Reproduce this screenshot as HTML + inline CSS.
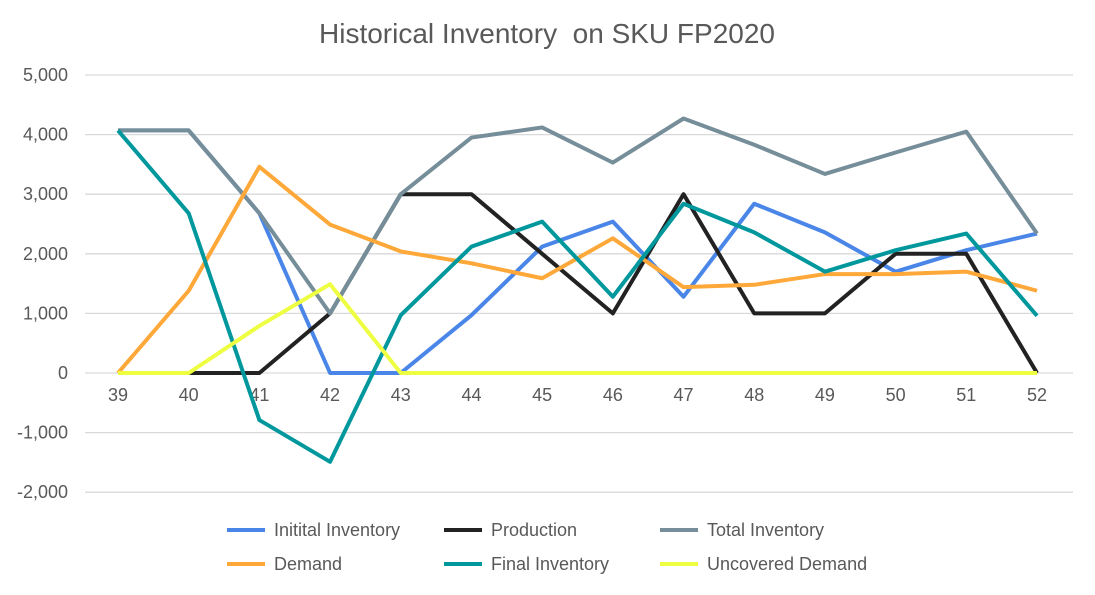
<!DOCTYPE html>
<html><head><meta charset="utf-8"><style>
body{margin:0;background:#fff;}
svg text{font-family:"Liberation Sans",Arial,sans-serif;fill:#595959;}
</style></head><body>
<svg width="1095" height="590" id="c">
<text x="547" y="43" font-size="28" text-anchor="middle" xml:space="preserve">Historical Inventory  on SKU FP2020</text>
<g id="grid"></g><g id="lines"></g><g id="legend"></g>
</svg>
<script>
const weeks=["39","40","41","42","43","44","45","46","47","48","49","50","51","52"];
const yTicks=[5000,4000,3000,2000,1000,0,-1000,-2000];
const yTickLabels=["5,000","4,000","3,000","2,000","1,000","0","-1,000","-2,000"];
const initialInv=[4070,4070,2680,0,0,970,2120,2540,1280,2840,2360,1700,2060,2340];
const production=[0,0,0,1000,3000,3000,2000,1000,3000,1000,1000,2000,2000,0];
const totalInv=[4070,4070,2680,1000,3000,3950,4120,3530,4270,3830,3340,3700,4050,2340];
const demand=[0,1380,3460,2490,2040,1840,1590,2260,1440,1480,1660,1660,1700,1380];
const finalInv=[4070,2680,-790,-1490,970,2120,2540,1280,2840,2360,1700,2060,2340,960];
const uncovered=[0,0,790,1490,0,0,0,0,0,0,0,0,0,0];
const NS="http://www.w3.org/2000/svg";
const x=i=>118+i*(1037-118)/13;
const y=v=>373-v*(373-75)/5000;
function mk(t,a,p){const e=document.createElementNS(NS,t);for(const k in a)e.setAttribute(k,a[k]);p.appendChild(e);return e;}
const g=document.getElementById('grid');
yTicks.forEach((v,i)=>{
 const l=mk('line',{x1:85,x2:1073,y1:y(v),y2:y(v),stroke:'#d9d9d9','stroke-width':1.3},g);
 
 
 const t=mk('text',{x:68,y:y(v)+6,'font-size':18,'text-anchor':'end'},g);t.textContent=yTickLabels[i];
 
 
});
weeks.forEach((w,i)=>{const t=mk('text',{x:x(i),y:y(0)+28,'font-size':18,'text-anchor':'middle'},g);t.textContent=w;
 
 });
const series=[
 ["Initital Inventory",initialInv,"#4A86E8","initial-inventory-line"],
 ["Production",production,"#222222","production-line"],
 ["Total Inventory",totalInv,"#768E99","total-inventory-line"],
 ["Demand",demand,"#FFA83A","demand-line"],
 ["Final Inventory",finalInv,"#00979D","final-inventory-line"],
 ["Uncovered Demand",uncovered,"#EEFF41","uncovered-demand-line"]];
const L=document.getElementById('lines'),LG=document.getElementById('legend');
const legPos=[[227,530],[444,530],[660,530],[227,564],[444,564],[660,564]];
series.forEach((s,k)=>{
 const p=mk('polyline',{points:s[1].map((v,i)=>x(i)+','+y(v)).join(' '),fill:'none',stroke:s[2],'stroke-width':4,'stroke-linejoin':'round'},L);
 
 
 const [lx,ly]=legPos[k];
 const e=mk('g',{},LG);
 
 
 mk('line',{x1:lx,x2:lx+38,y1:ly,y2:ly,stroke:s[2],'stroke-width':4},e);
 const t=mk('text',{x:lx+47,y:ly+6,'font-size':18},e);t.textContent=s[0];
});
</script>
</body></html>
